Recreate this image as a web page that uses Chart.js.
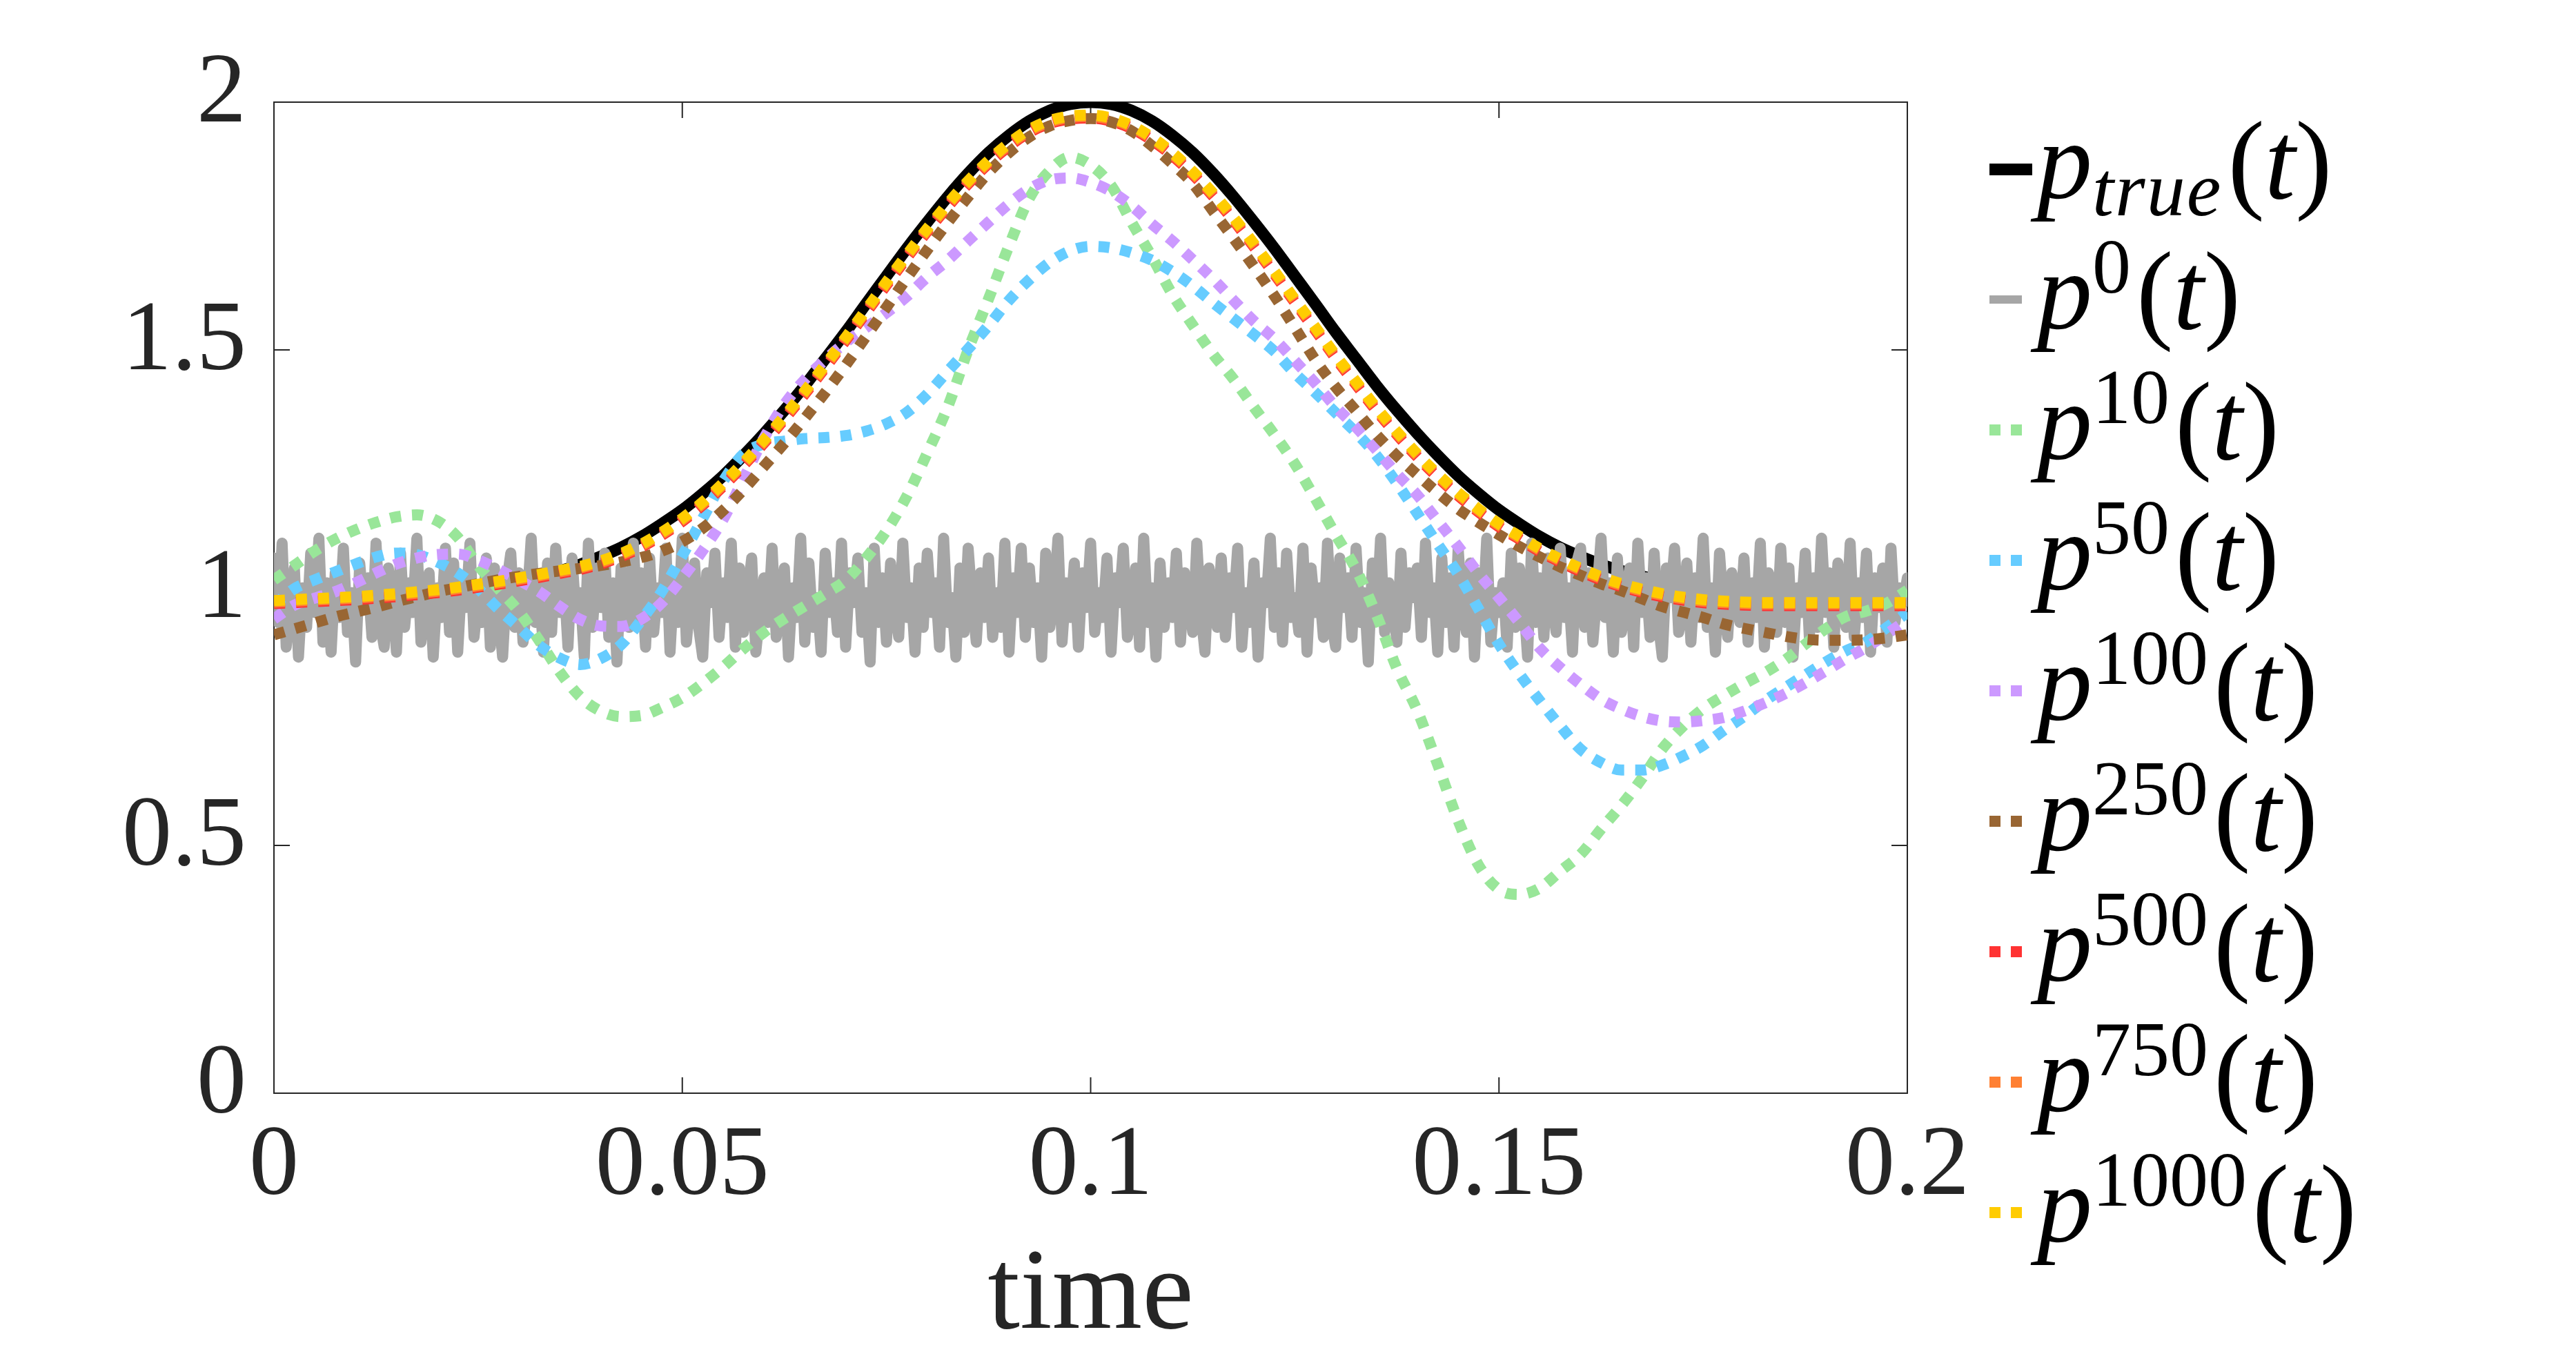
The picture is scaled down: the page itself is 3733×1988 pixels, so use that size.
<!DOCTYPE html>
<html>
<head>
<meta charset="utf-8">
<title>p(t) iterations</title>
<script src="https://cdn.jsdelivr.net/npm/chart.js@4.4.1/dist/chart.umd.min.js"></script>
<style>
  html, body { margin: 0; padding: 0; background: #fff; overflow: hidden; }
  #wrap { position: relative; width: 3733px; height: 1988px; }
  #legend .sw { position: absolute; }
  #legend .tx {
    position: absolute;
    font-family: 'Liberation Serif', serif;
    font-size: 160px;
    line-height: 160px;
    height: 160px;
    white-space: nowrap;
    color: #000;
  }
  #legend sup, #legend sub { font-size: 112px; line-height: 0; }
  #legend sup { vertical-align: 52px; margin-right: 8px; }
  #legend sub { vertical-align: -25px; font-style: italic; margin-right: 8px; letter-spacing: 2px; }
</style>
</head>
<body>
<div id="wrap">
  <canvas id="main-chart"></canvas>
  <div id="legend"></div>
</div>
<script>
// sample times of the smooth curves
const tGrid = [0,0.0025,0.005,0.0075,0.01,0.0125,0.015,0.0175,0.02,0.0225,0.025,0.0275,0.03,0.0325,0.035,0.0375,0.04,0.0425,0.045,0.0475,
  0.05,0.0525,0.055,0.0575,0.06,0.0625,0.065,0.0675,0.07,0.0725,0.075,0.0775,0.08,0.0825,0.085,0.0875,0.09,0.0925,0.095,0.0975,
  0.1,0.1025,0.105,0.1075,0.11,0.1125,0.115,0.1175,0.12,0.1225,0.125,0.1275,0.13,0.1325,0.135,0.1375,0.14,0.1425,0.145,0.1475,
  0.15,0.1525,0.155,0.1575,0.16,0.1625,0.165,0.1675,0.17,0.1725,0.175,0.1775,0.18,0.1825,0.185,0.1875,0.19,0.1925,0.195,0.1975,0.2]

const pTrue = [1.001,1.001,1.002,1.003,1.004,1.005,1.007,1.009,1.012,1.016,1.020,1.026,1.034,1.043,1.054,1.067,1.083,1.101,1.123,1.149,
  1.177,1.210,1.246,1.287,1.331,1.378,1.428,1.482,1.536,1.593,1.649,1.705,1.758,1.809,1.856,1.898,1.933,1.962,1.983,1.996,
  2.000,1.996,1.983,1.962,1.933,1.898,1.856,1.809,1.758,1.705,1.649,1.593,1.536,1.482,1.428,1.378,1.331,1.287,1.246,1.210,
  1.177,1.149,1.123,1.101,1.083,1.067,1.054,1.043,1.034,1.026,1.020,1.016,1.012,1.009,1.007,1.005,1.004,1.003,1.002,1.001,1.001]

const p10 = [1.036,1.065,1.094,1.118,1.137,1.152,1.163,1.167,1.155,1.122,1.065,1.018,0.972,0.913,0.850,0.800,0.771,0.760,0.762,0.778,
  0.798,0.827,0.860,0.897,0.930,0.958,0.983,1.008,1.035,1.080,1.135,1.205,1.292,1.385,1.500,1.603,1.710,1.806,1.862,1.889,
  1.873,1.832,1.758,1.688,1.612,1.550,1.491,1.441,1.384,1.329,1.270,1.200,1.127,1.057,0.965,0.857,0.772,0.663,0.550,0.460,
  0.411,0.401,0.414,0.448,0.482,0.533,0.581,0.635,0.695,0.740,0.776,0.802,0.826,0.848,0.874,0.906,0.937,0.962,0.973,0.989,1.015]

const p50 = [0.985,1.018,1.036,1.052,1.068,1.082,1.090,1.087,1.072,1.050,1.018,0.977,0.940,0.903,0.878,0.865,0.877,0.905,0.955,1.013,
  1.085,1.160,1.235,1.290,1.310,1.316,1.321,1.323,1.327,1.336,1.351,1.374,1.411,1.457,1.502,1.549,1.600,1.642,1.677,1.700,
  1.709,1.706,1.696,1.681,1.658,1.629,1.595,1.563,1.531,1.497,1.453,1.414,1.373,1.333,1.287,1.231,1.170,1.108,1.048,0.977,
  0.906,0.846,0.792,0.741,0.694,0.667,0.652,0.652,0.662,0.680,0.702,0.732,0.760,0.791,0.818,0.844,0.870,0.893,0.911,0.940,0.970]

const p100 = [0.957,0.985,0.999,1.012,1.030,1.050,1.068,1.080,1.087,1.088,1.076,1.057,1.035,1.012,0.982,0.956,0.943,0.942,0.957,0.990,
  1.040,1.095,1.158,1.240,1.322,1.390,1.440,1.480,1.515,1.545,1.575,1.608,1.647,1.681,1.720,1.758,1.795,1.825,1.843,1.847,
  1.838,1.820,1.791,1.754,1.720,1.682,1.643,1.600,1.558,1.522,1.478,1.433,1.385,1.344,1.298,1.250,1.207,1.155,1.103,1.049,
  1.000,0.950,0.898,0.859,0.825,0.795,0.775,0.760,0.751,0.749,0.752,0.758,0.771,0.787,0.806,0.828,0.852,0.877,0.900,0.927,0.955]

const p250 = [0.925,0.937,0.949,0.961,0.971,0.981,0.992,1.002,1.012,1.020,1.028,1.036,1.043,1.049,1.054,1.059,1.065,1.072,1.081,1.094,
  1.113,1.140,1.176,1.218,1.265,1.312,1.362,1.414,1.469,1.527,1.586,1.645,1.702,1.757,1.809,1.858,1.898,1.930,1.952,1.963,
  1.967,1.960,1.942,1.912,1.876,1.836,1.780,1.725,1.668,1.609,1.545,1.480,1.425,1.377,1.329,1.286,1.248,1.212,1.179,1.152,
  1.127,1.103,1.082,1.062,1.045,1.028,1.014,0.998,0.982,0.971,0.960,0.947,0.938,0.930,0.922,0.916,0.914,0.914,0.915,0.919,0.925]

const p500 = [0.988,0.990,0.992,0.994,0.996,0.999,1.002,1.006,1.010,1.015,1.021,1.027,1.034,1.041,1.049,1.057,1.068,1.083,1.102,1.126,
  1.154,1.187,1.225,1.267,1.312,1.360,1.411,1.464,1.519,1.575,1.631,1.686,1.739,1.789,1.835,1.876,1.911,1.939,1.957,1.966,
  1.968,1.962,1.947,1.923,1.892,1.854,1.810,1.761,1.708,1.653,1.596,1.540,1.483,1.430,1.377,1.329,1.284,1.243,1.206,1.173,
  1.143,1.118,1.093,1.072,1.053,1.036,1.022,1.011,1.002,0.995,0.990,0.987,0.985,0.984,0.984,0.984,0.984,0.984,0.984,0.984,0.984]

const p750 = [0.991,0.993,0.995,0.997,0.999,1.002,1.005,1.009,1.013,1.018,1.024,1.030,1.037,1.044,1.052,1.060,1.071,1.086,1.105,1.129,
  1.157,1.190,1.228,1.270,1.315,1.363,1.414,1.467,1.522,1.578,1.634,1.689,1.742,1.792,1.838,1.879,1.914,1.942,1.960,1.969,
  1.971,1.965,1.950,1.926,1.895,1.857,1.813,1.764,1.711,1.656,1.599,1.543,1.486,1.433,1.380,1.332,1.287,1.246,1.209,1.176,
  1.146,1.121,1.096,1.075,1.056,1.039,1.025,1.014,1.005,0.998,0.993,0.990,0.988,0.987,0.987,0.987,0.987,0.987,0.987,0.987,0.987]

const p1000 = [0.994,0.996,0.998,1.000,1.002,1.005,1.008,1.012,1.016,1.021,1.027,1.033,1.040,1.047,1.055,1.063,1.074,1.089,1.108,1.132,
  1.160,1.193,1.231,1.273,1.318,1.366,1.417,1.470,1.525,1.581,1.637,1.692,1.745,1.795,1.841,1.882,1.917,1.945,1.963,1.972,
  1.974,1.968,1.953,1.929,1.898,1.860,1.816,1.767,1.714,1.659,1.602,1.546,1.489,1.436,1.383,1.335,1.290,1.249,1.212,1.179,
  1.149,1.124,1.099,1.078,1.059,1.042,1.028,1.017,1.008,1.001,0.996,0.993,0.991,0.990,0.990,0.990,0.990,0.990,0.990,0.990,0.990]

// noisy initial guess p^0, sampled more finely
const tNoise = [0,0.0005,0.001,0.0015,0.002,0.0025,0.003,0.0035,0.004,0.0045,0.005,0.0055,0.006,0.0065,0.007,0.0075,0.008,0.0085,0.009,0.0095,
  0.01,0.0105,0.011,0.0115,0.012,0.0125,0.013,0.0135,0.014,0.0145,0.015,0.0155,0.016,0.0165,0.017,0.0175,0.018,0.0185,0.019,0.0195,
  0.02,0.0205,0.021,0.0215,0.022,0.0225,0.023,0.0235,0.024,0.0245,0.025,0.0255,0.026,0.0265,0.027,0.0275,0.028,0.0285,0.029,0.0295,
  0.03,0.0305,0.031,0.0315,0.032,0.0325,0.033,0.0335,0.034,0.0345,0.035,0.0355,0.036,0.0365,0.037,0.0375,0.038,0.0385,0.039,0.0395,
  0.04,0.0405,0.041,0.0415,0.042,0.0425,0.043,0.0435,0.044,0.0445,0.045,0.0455,0.046,0.0465,0.047,0.0475,0.048,0.0485,0.049,0.0495,
  0.05,0.0505,0.051,0.0515,0.052,0.0525,0.053,0.0535,0.054,0.0545,0.055,0.0555,0.056,0.0565,0.057,0.0575,0.058,0.0585,0.059,0.0595,
  0.06,0.0605,0.061,0.0615,0.062,0.0625,0.063,0.0635,0.064,0.0645,0.065,0.0655,0.066,0.0665,0.067,0.0675,0.068,0.0685,0.069,0.0695,
  0.07,0.0705,0.071,0.0715,0.072,0.0725,0.073,0.0735,0.074,0.0745,0.075,0.0755,0.076,0.0765,0.077,0.0775,0.078,0.0785,0.079,0.0795,
  0.08,0.0805,0.081,0.0815,0.082,0.0825,0.083,0.0835,0.084,0.0845,0.085,0.0855,0.086,0.0865,0.087,0.0875,0.088,0.0885,0.089,0.0895,
  0.09,0.0905,0.091,0.0915,0.092,0.0925,0.093,0.0935,0.094,0.0945,0.095,0.0955,0.096,0.0965,0.097,0.0975,0.098,0.0985,0.099,0.0995,
  0.1,0.1005,0.101,0.1015,0.102,0.1025,0.103,0.1035,0.104,0.1045,0.105,0.1055,0.106,0.1065,0.107,0.1075,0.108,0.1085,0.109,0.1095,
  0.11,0.1105,0.111,0.1115,0.112,0.1125,0.113,0.1135,0.114,0.1145,0.115,0.1155,0.116,0.1165,0.117,0.1175,0.118,0.1185,0.119,0.1195,
  0.12,0.1205,0.121,0.1215,0.122,0.1225,0.123,0.1235,0.124,0.1245,0.125,0.1255,0.126,0.1265,0.127,0.1275,0.128,0.1285,0.129,0.1295,
  0.13,0.1305,0.131,0.1315,0.132,0.1325,0.133,0.1335,0.134,0.1345,0.135,0.1355,0.136,0.1365,0.137,0.1375,0.138,0.1385,0.139,0.1395,
  0.14,0.1405,0.141,0.1415,0.142,0.1425,0.143,0.1435,0.144,0.1445,0.145,0.1455,0.146,0.1465,0.147,0.1475,0.148,0.1485,0.149,0.1495,
  0.15,0.1505,0.151,0.1515,0.152,0.1525,0.153,0.1535,0.154,0.1545,0.155,0.1555,0.156,0.1565,0.157,0.1575,0.158,0.1585,0.159,0.1595,
  0.16,0.1605,0.161,0.1615,0.162,0.1625,0.163,0.1635,0.164,0.1645,0.165,0.1655,0.166,0.1665,0.167,0.1675,0.168,0.1685,0.169,0.1695,
  0.17,0.1705,0.171,0.1715,0.172,0.1725,0.173,0.1735,0.174,0.1745,0.175,0.1755,0.176,0.1765,0.177,0.1775,0.178,0.1785,0.179,0.1795,
  0.18,0.1805,0.181,0.1815,0.182,0.1825,0.183,0.1835,0.184,0.1845,0.185,0.1855,0.186,0.1865,0.187,0.1875,0.188,0.1885,0.189,0.1895,
  0.19,0.1905,0.191,0.1915,0.192,0.1925,0.193,0.1935,0.194,0.1945,0.195,0.1955,0.196,0.1965,0.197,0.1975,0.198,0.1985,0.199,0.1995,0.2]

const p0 = [1.08,0.95,1.11,0.90,0.99,1.06,0.88,1.02,0.94,1.09,0.97,1.12,0.91,1.03,0.89,1.05,0.96,1.10,0.93,1.01,
  0.87,1.07,0.98,1.04,0.92,1.11,0.95,0.90,1.06,1.00,0.89,1.09,0.94,1.03,0.97,1.12,0.91,0.99,1.05,0.88,
  1.02,0.96,1.10,0.93,1.07,0.89,1.04,0.98,1.11,0.92,1.00,0.95,1.08,0.90,1.06,0.97,0.88,1.03,1.09,0.94,
  1.05,0.91,0.99,1.12,0.95,1.02,0.89,1.07,0.93,1.10,0.97,1.04,0.90,1.08,0.96,1.01,0.88,1.11,0.94,1.06,
  0.98,1.09,0.92,1.03,0.87,1.06,1.00,0.94,1.11,0.96,1.05,0.90,1.08,0.93,1.02,0.97,1.10,0.89,1.04,0.95,
  1.12,0.91,1.00,1.07,0.94,0.88,1.05,0.99,1.09,0.92,1.03,0.96,1.11,0.90,1.06,0.93,1.01,1.08,0.89,0.97,
  1.04,0.95,1.10,0.92,0.98,1.06,0.88,1.02,0.96,1.12,0.91,1.07,0.94,1.00,0.89,1.09,0.97,1.03,0.93,1.11,
  0.90,1.05,0.99,1.08,0.93,1.01,0.87,1.10,0.95,1.04,0.91,1.07,0.98,0.92,1.11,0.96,1.02,0.89,1.06,0.94,
  1.09,0.97,1.03,0.90,1.12,0.95,1.00,0.88,1.06,0.93,1.10,0.99,0.91,1.05,0.96,1.08,0.92,1.01,0.94,1.11,
  0.89,1.04,0.97,1.10,0.92,1.06,0.95,1.02,0.88,1.09,0.94,1.00,1.12,0.91,1.03,0.96,1.07,0.90,1.05,0.98,
  1.11,0.93,1.01,0.96,1.08,0.89,1.04,0.99,1.10,0.92,0.97,1.06,0.90,1.12,0.95,1.02,0.88,1.07,0.94,1.03,
  0.96,1.09,0.91,1.05,1.00,0.93,1.11,0.97,0.89,1.06,1.02,0.94,1.08,0.92,1.04,0.98,1.10,0.90,1.01,0.95,
  1.07,0.88,1.03,0.99,1.12,0.94,1.05,0.91,1.09,0.96,1.00,0.93,1.10,0.89,1.06,0.97,1.02,0.92,1.11,0.95,
  0.90,1.08,0.98,1.04,0.92,1.10,0.95,1.01,0.87,1.07,0.96,1.12,0.93,1.03,0.99,0.91,1.09,0.94,1.05,1.00,
  1.06,0.92,1.11,0.97,1.02,0.89,1.08,0.95,1.04,0.90,1.10,0.98,0.93,1.07,0.88,1.05,0.96,1.12,0.91,1.01,
  0.97,1.03,0.90,1.09,0.94,1.06,1.00,0.88,1.11,0.95,1.04,0.92,1.08,0.99,0.93,1.10,0.96,1.02,0.89,1.07,
  1.10,0.94,1.05,0.91,1.01,1.12,0.96,1.03,0.89,1.08,0.93,0.99,1.06,0.90,1.11,0.97,1.04,0.92,1.09,0.95,
  0.88,1.06,1.00,1.10,0.93,0.97,1.07,0.91,1.04,0.96,1.12,0.94,1.02,0.89,1.09,0.98,0.92,1.05,1.01,0.95,
  1.08,0.91,1.03,0.96,1.11,0.90,1.05,0.99,0.93,1.10,0.95,1.06,0.88,1.02,0.97,1.09,0.92,1.04,0.94,1.12,
  0.97,1.05,0.90,1.07,1.00,0.94,1.11,0.92,1.03,0.96,1.09,0.89,1.04,0.98,1.06,0.91,1.10,0.95,1.02,0.99,1.04]

const xTicks = [0, 0.05, 0.1, 0.15, 0.2]
const xTickLabels = ['0', '0.05', '0.1', '0.15', '0.2']
const yTicks = [0, 0.5, 1, 1.5, 2]
const yTickLabels = ['0', '0.5', '1', '1.5', '2']

const seriesNames = ['p_true(t)', 'p^0(t)', 'p^10(t)', 'p^50(t)', 'p^100(t)', 'p^250(t)', 'p^500(t)', 'p^750(t)', 'p^1000(t)']
const legendSub = ['true', '', '', '', '', '', '', '', '']
const legendSup = ['', '0', '10', '50', '100', '250', '500', '750', '1000']

const series = [
  [tGrid, pTrue], [tNoise, p0], [tGrid, p10], [tGrid, p50], [tGrid, p100],
  [tGrid, p250], [tGrid, p500], [tGrid, p750], [tGrid, p1000]
]

// look
const colors = ['#000000', '#a6a6a6', '#99e699', '#66ccff', '#cc99ff', '#996633', '#ff3333', '#ff8033', '#ffcc00']
const widths = [17, 16, 16, 16, 16, 16, 16, 16, 16]
const axisColor = '#262626'
const serif = "'Liberation Serif', 'Times New Roman', serif"
const tickLen = 23
const legendTop = 245
const legendStep = 189

function toPoints(xs, ys) {
    return xs.map((x, i) => ({ x: x, y: ys[i] }))
}

const datasets = series.map(function(s, i) {
    let dotted = i >= 2
    return {
        label: seriesNames[i],
        data: toPoints(s[0], s[1]),
        borderColor: colors[i],
        backgroundColor: colors[i],
        borderWidth: widths[i],
        borderDash: dotted ? [16, 16] : [],
        borderCapStyle: i === 1 ? 'round' : 'butt',
        borderJoinStyle: i === 1 ? 'round' : 'miter',
        cubicInterpolationMode: i === 1 ? 'default' : 'monotone',
        tension: 0,
        pointRadius: 0,
        fill: false,
        // last iterate on top, true solution at the bottom
        order: series.length - 1 - i
    }
})

// box + inward ticks on all four sides, like the original figure
const frame = {
    id: 'frame',
    beforeDatasetsDraw(chart) {
        const { ctx, chartArea: a, scales } = chart
        ctx.save()
        ctx.strokeStyle = axisColor
        ctx.lineWidth = 2
        ctx.strokeRect(a.left, a.top, a.right - a.left, a.bottom - a.top)
        ctx.beginPath()
        scales.x.ticks.forEach(t => {
            let px = scales.x.getPixelForValue(t.value)
            ctx.moveTo(px, a.bottom); ctx.lineTo(px, a.bottom - tickLen)
            ctx.moveTo(px, a.top); ctx.lineTo(px, a.top + tickLen)
        })
        scales.y.ticks.forEach(t => {
            let py = scales.y.getPixelForValue(t.value)
            ctx.moveTo(a.left, py); ctx.lineTo(a.left + tickLen, py)
            ctx.moveTo(a.right, py); ctx.lineTo(a.right - tickLen, py)
        })
        ctx.stroke()
        ctx.restore()
    }
}

// html legend so the labels can carry super/subscripts
const htmlLegend = {
    id: 'htmlLegend',
    afterUpdate(chart) {
        const box = document.getElementById('legend')
        box.innerHTML = ''
        chart.data.datasets.forEach(function(ds, i) {
            let cy = legendTop + i * legendStep
            let sw = document.createElement('span')
            sw.className = 'sw'
            let w = i === 0 ? 62 : 47
            let h = i === 0 ? 17 : (i === 1 ? 12 : 16)
            sw.style.left = '2883px'
            sw.style.top = (cy - h / 2) + 'px'
            sw.style.width = w + 'px'
            sw.style.height = h + 'px'
            if (ds.borderDash.length) {
                sw.style.background = 'repeating-linear-gradient(90deg, ' + ds.borderColor + ' 0 16px, transparent 16px 31px)'
            } else {
                sw.style.background = ds.borderColor
            }
            box.appendChild(sw)

            let tx = document.createElement('span')
            tx.className = 'tx'
            tx.style.left = '2952px'
            tx.style.top = (cy - 92) + 'px'
            let html = '<i>p</i>'
            if (legendSub[i]) html += '<sub>' + legendSub[i] + '</sub>'
            if (legendSup[i]) html += '<sup>' + legendSup[i] + '</sup>'
            html += '(<i>t</i>)'
            tx.innerHTML = html
            box.appendChild(tx)
        })
    }
}

const source = document.getElementById('main-chart')

new Chart(source, {
    type: 'line',
    data: { datasets: datasets },
    options: {
        responsive: true,
        maintainAspectRatio: false,
        devicePixelRatio: 1,
        animation: false,
        events: [],
        layout: { padding: { left: 0, top: 148, right: 969, bottom: 0 } },
        plugins: {
            legend: { display: false },
            tooltip: { enabled: false },
            title: { display: false }
        },
        scales: {
            x: {
                type: 'linear',
                min: 0,
                max: 0.2,
                afterBuildTicks: s => { s.ticks = xTicks.map(v => ({ value: v })) },
                afterFit: s => { s.height = 404 },
                grid: { display: false, drawTicks: false },
                border: { display: false },
                ticks: {
                    callback: (v, i) => xTickLabels[i],
                    font: { family: serif, size: 144 },
                    color: axisColor,
                    padding: 22,
                    maxRotation: 0,
                    autoSkip: false
                },
                title: {
                    display: true,
                    text: 'time',
                    font: { family: serif, size: 168 },
                    color: axisColor,
                    padding: { top: 0, bottom: 7 }
                }
            },
            y: {
                type: 'linear',
                min: 0,
                max: 2,
                afterBuildTicks: s => { s.ticks = yTicks.map(v => ({ value: v })) },
                afterFit: s => { s.width = 397 },
                grid: { display: false, drawTicks: false },
                border: { display: false },
                ticks: {
                    callback: (v, i) => yTickLabels[i],
                    font: { family: serif, size: 144 },
                    color: axisColor,
                    padding: 40,
                    labelOffset: -10
                }
            }
        }
    },
    plugins: [frame, htmlLegend]
})
</script>
</body>
</html>
